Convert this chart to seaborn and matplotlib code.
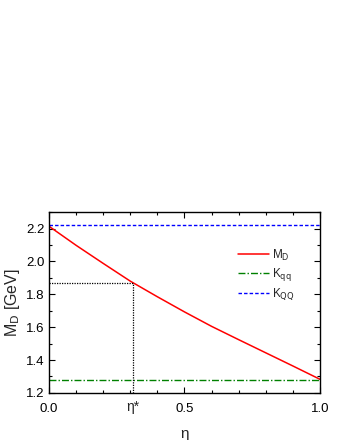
import numpy as np
import pandas as pd
import matplotlib
matplotlib.use("Agg")
import matplotlib.pyplot as plt
import seaborn as sns
from matplotlib.ticker import MultipleLocator, FormatStrFormatter

eta = [0.0, 0.1, 0.2, 0.3, 0.4, 0.5, 0.6, 0.7, 0.8, 0.9, 1.0]
m_d = [2.214, 2.098, 1.988, 1.880, 1.785, 1.693, 1.605, 1.524, 1.444, 1.364, 1.283]
k_qq = 1.278
k_QQ = 2.223
eta_star = 0.309
m_star = 1.870

sns.set_theme(style="ticks")
plt.rcParams['font.family'] = ['Liberation Sans', 'DejaVu Sans']

fig = plt.figure(figsize=(3.4, 4.4), dpi=100)
ax = fig.add_axes([0.144, 0.107, 0.797, 0.411])

df = pd.DataFrame({"eta": eta, "M_D": m_d})
sns.lineplot(data=df, x="eta", y="M_D", ax=ax, color="#ff0000", lw=1.1, label=r"M$_\mathrm{D}$")
ax.axhline(k_qq, color="#008000", lw=1.0, ls=(0, (5, 1.5, 1, 1.5)), label=r"K$_\mathrm{qq}$")
ax.axhline(k_QQ, color="#0000ff", lw=1.0, ls=(0, (2.5, 1.5)), label=r"K$_\mathrm{QQ}$")

ax.plot([eta_star, eta_star], [1.2, m_star], color="black", lw=0.9, ls=(0, (1, 1)))
ax.plot([0, eta_star], [m_star, m_star], color="black", lw=0.9, ls=(0, (1, 1)))

ax.set_xlim(0, 1.0)
ax.set_ylim(1.2, 2.3)
ax.xaxis.set_major_locator(MultipleLocator(0.5))
ax.xaxis.set_minor_locator(MultipleLocator(0.1))
ax.yaxis.set_major_locator(MultipleLocator(0.2))
ax.yaxis.set_minor_locator(MultipleLocator(0.1))
ax.tick_params(which="both", direction="in", top=True, right=True, width=0.8, colors="black", labelsize=9.5)
ax.tick_params(which="major", length=4)
ax.tick_params(which="minor", length=2.5)
ax.tick_params(axis="x", which="major", pad=7)
ax.tick_params(axis="y", which="major", pad=3)
ax.xaxis.set_major_formatter(FormatStrFormatter("%.1f"))
ax.yaxis.set_major_formatter(FormatStrFormatter("%.1f"))
ax.text(eta_star, -0.04, "η*", transform=ax.get_xaxis_transform(), ha="center", va="top", fontsize=10)

for s in ax.spines.values():
    s.set_color("black")
    s.set_linewidth(1.0)

ax.set_xlabel("η", fontsize=11, labelpad=9)
ax.set_ylabel(r"M$_\mathrm{D}$ [GeV]", fontsize=11.5, labelpad=3)

leg = ax.legend(loc="upper right", bbox_to_anchor=(0.925, 0.83), borderaxespad=0, frameon=False, fontsize=8.5,
                handlelength=2.6, handletextpad=0.3, labelspacing=0.3)

fig.savefig("out.png", dpi=100)
